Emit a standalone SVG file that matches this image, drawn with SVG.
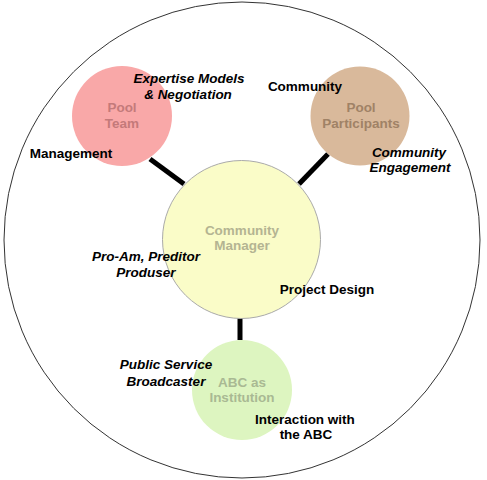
<svg xmlns="http://www.w3.org/2000/svg" width="487" height="480" viewBox="0 0 487 480">
<style>
text{font-family:"Liberation Sans",Arial,Helvetica,sans-serif;font-weight:bold;font-size:13.5px;text-anchor:middle}
.it{font-style:italic}
.lbl{fill:#000}
.conn{stroke:#000;stroke-width:5;fill:none}
</style>
<rect width="487" height="480" fill="#fff"/>
<circle id="outer" cx="242" cy="240" r="238" fill="none" stroke="#333" stroke-width="1"/>
<g id="connectors">
<line class="conn" x1="150" y1="159" x2="184" y2="184"/>
<line class="conn" x1="328" y1="154" x2="299" y2="184"/>
<line class="conn" x1="240" y1="318" x2="240" y2="340"/>
</g>
<g id="pool-team">
<circle cx="122" cy="116" r="50" fill="#f9a8a8"/>
<text x="122" y="112" fill="#c47a7a">Pool</text>
<text x="122" y="128" fill="#c47a7a">Team</text>
</g>
<g id="pool-participants">
<circle cx="360" cy="116" r="49.5" fill="#d9b99b"/>
<text x="361" y="112" fill="#a08266">Pool</text>
<text x="361" y="128" fill="#a08266">Participants</text>
</g>
<g id="community-manager">
<circle cx="241.5" cy="239.5" r="79" fill="#fafcc8" stroke="#aaa" stroke-width="1"/>
<text x="242" y="235" fill="#b4b492">Community</text>
<text x="242" y="250" fill="#b4b492">Manager</text>
</g>
<g id="abc-institution">
<circle cx="242" cy="390" r="50" fill="#ddf5c0"/>
<text x="242" y="387" fill="#a9b993">ABC as</text>
<text x="242" y="402" fill="#a9b993">Institution</text>
</g>
<g id="labels">
<text class="it lbl" x="189" y="83">Expertise Models</text>
<text class="it lbl" x="188" y="99">&amp; Negotiation</text>
<text class="lbl" x="305" y="91">Community</text>
<text class="lbl" x="71" y="158">Management</text>
<text class="it lbl" x="409" y="157">Community</text>
<text class="it lbl" x="410" y="172">Engagement</text>
<text class="it lbl" x="146" y="261">Pro-Am, Preditor</text>
<text class="it lbl" x="146" y="277">Produser</text>
<text class="lbl" x="327" y="294">Project Design</text>
<text class="it lbl" x="166" y="369">Public Service</text>
<text class="it lbl" x="166" y="386">Broadcaster</text>
<text class="lbl" x="305" y="424">Interaction with</text>
<text class="lbl" x="306" y="439">the ABC</text>
</g>
</svg>
